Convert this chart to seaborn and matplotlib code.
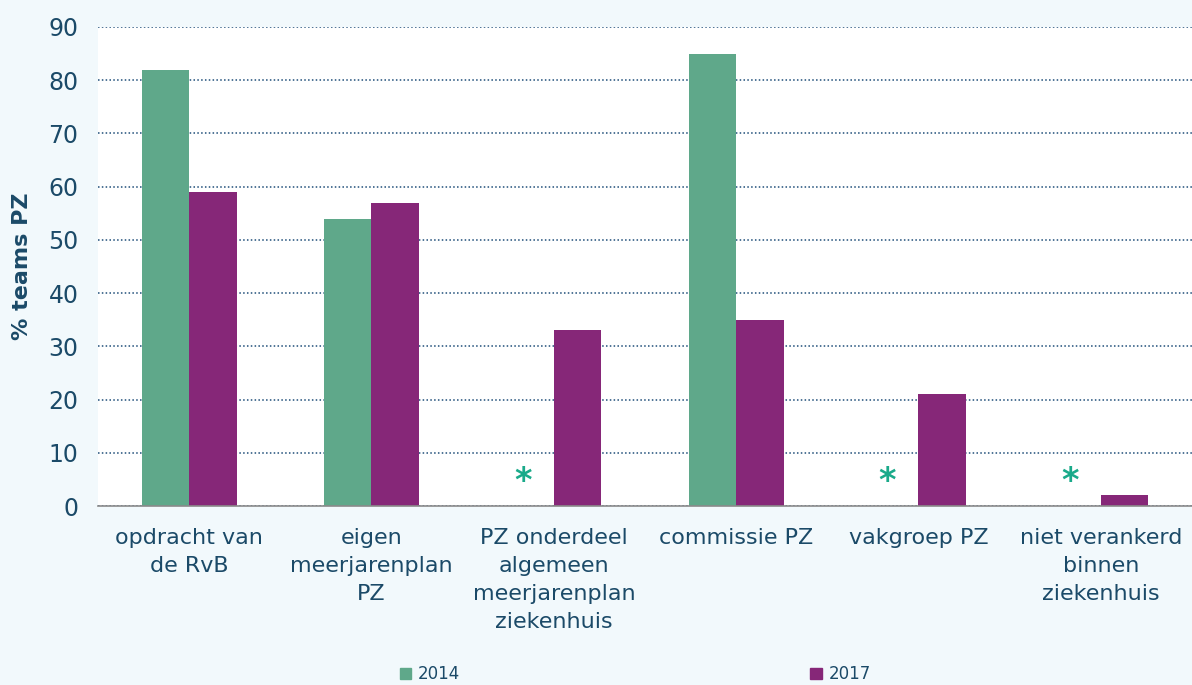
import pandas as pd
import matplotlib
matplotlib.use("Agg")
import matplotlib.pyplot as plt
import seaborn as sns
import numpy as np

categories = ["opdracht van\nde RvB", "eigen\nmeerjarenplan\nPZ", "PZ onderdeel\nalgemeen\nmeerjarenplan\nziekenhuis",
              "commissie PZ", "vakgroep PZ", "niet verankerd\nbinnen\nziekenhuis"]
vals_2014 = [82, 54, np.nan, 85, np.nan, np.nan]
vals_2017 = [59, 57, 33, 35, 21, 2]
years = ["2014", "2017"]
colors = ["#5fa88a", "#862778"]
text_col = "#1b4a68"
bg = "#f2f9fc"

df = pd.DataFrame({
    "cat": categories * 2,
    "year": [years[0]] * 6 + [years[1]] * 6,
    "val": vals_2014 + vals_2017,
})

sns.set_style("white")
plt.rcParams["font.family"] = ["DejaVu Sans"]

fig = plt.figure(figsize=(11.92, 6.85), dpi=100, facecolor=bg)
ax = fig.add_axes([0.0822, 0.2613, 0.9178, 0.6993])
ax.set_facecolor("white")

sns.barplot(data=df, x="cat", y="val", hue="year", palette=colors, width=0.52,
            saturation=1, ax=ax, edgecolor="none", legend=False)

# asterisks where 2014 had no data
for i, v in enumerate(vals_2014):
    if np.isnan(v):
        ax.text(i - 0.17, 4.6, "*", color="#1aaa8a", fontsize=24, fontweight="bold",
                ha="center", va="center")

ax.set_ylim(0, 90)
ax.set_xlim(-0.5, len(categories) - 0.5)
ax.set_yticks(range(0, 91, 10))
ax.yaxis.grid(True, linestyle=(0, (1, 1.5)), color="#1f4e79", linewidth=1.1)
ax.set_axisbelow(True)

for s in ["top", "right", "left"]:
    ax.spines[s].set_visible(False)
ax.spines["bottom"].set_color("#8a8a8a")
ax.spines["bottom"].set_linewidth(1.2)

ax.set_xticks(np.arange(-0.5, len(categories)), minor=True)
ax.tick_params(axis="x", which="minor", length=8, color="#8a8a8a", width=1.2, direction="out")
ax.tick_params(axis="x", which="major", length=0, pad=16, labelsize=16, labelcolor=text_col)
ax.tick_params(axis="y", length=0, pad=14, labelsize=17, labelcolor=text_col)
for lab in ax.get_xticklabels():
    lab.set_linespacing(1.5)

ax.set_xlabel("")
ax.set_ylabel("% teams PZ", fontsize=16, fontweight="bold", color=text_col, labelpad=12)

handles = [plt.Rectangle((0, 0), 1, 1, color=c) for c in colors]
fig.legend(handles, years, loc="lower center", bbox_to_anchor=(0.533, 0.0), ncol=2, frameon=False,
           fontsize=12, labelcolor=text_col, columnspacing=21, handlelength=0.7,
           handleheight=0.7, handletextpad=0.4, borderpad=0.1, borderaxespad=0)

fig.savefig("out.png", dpi=100, facecolor=bg)
